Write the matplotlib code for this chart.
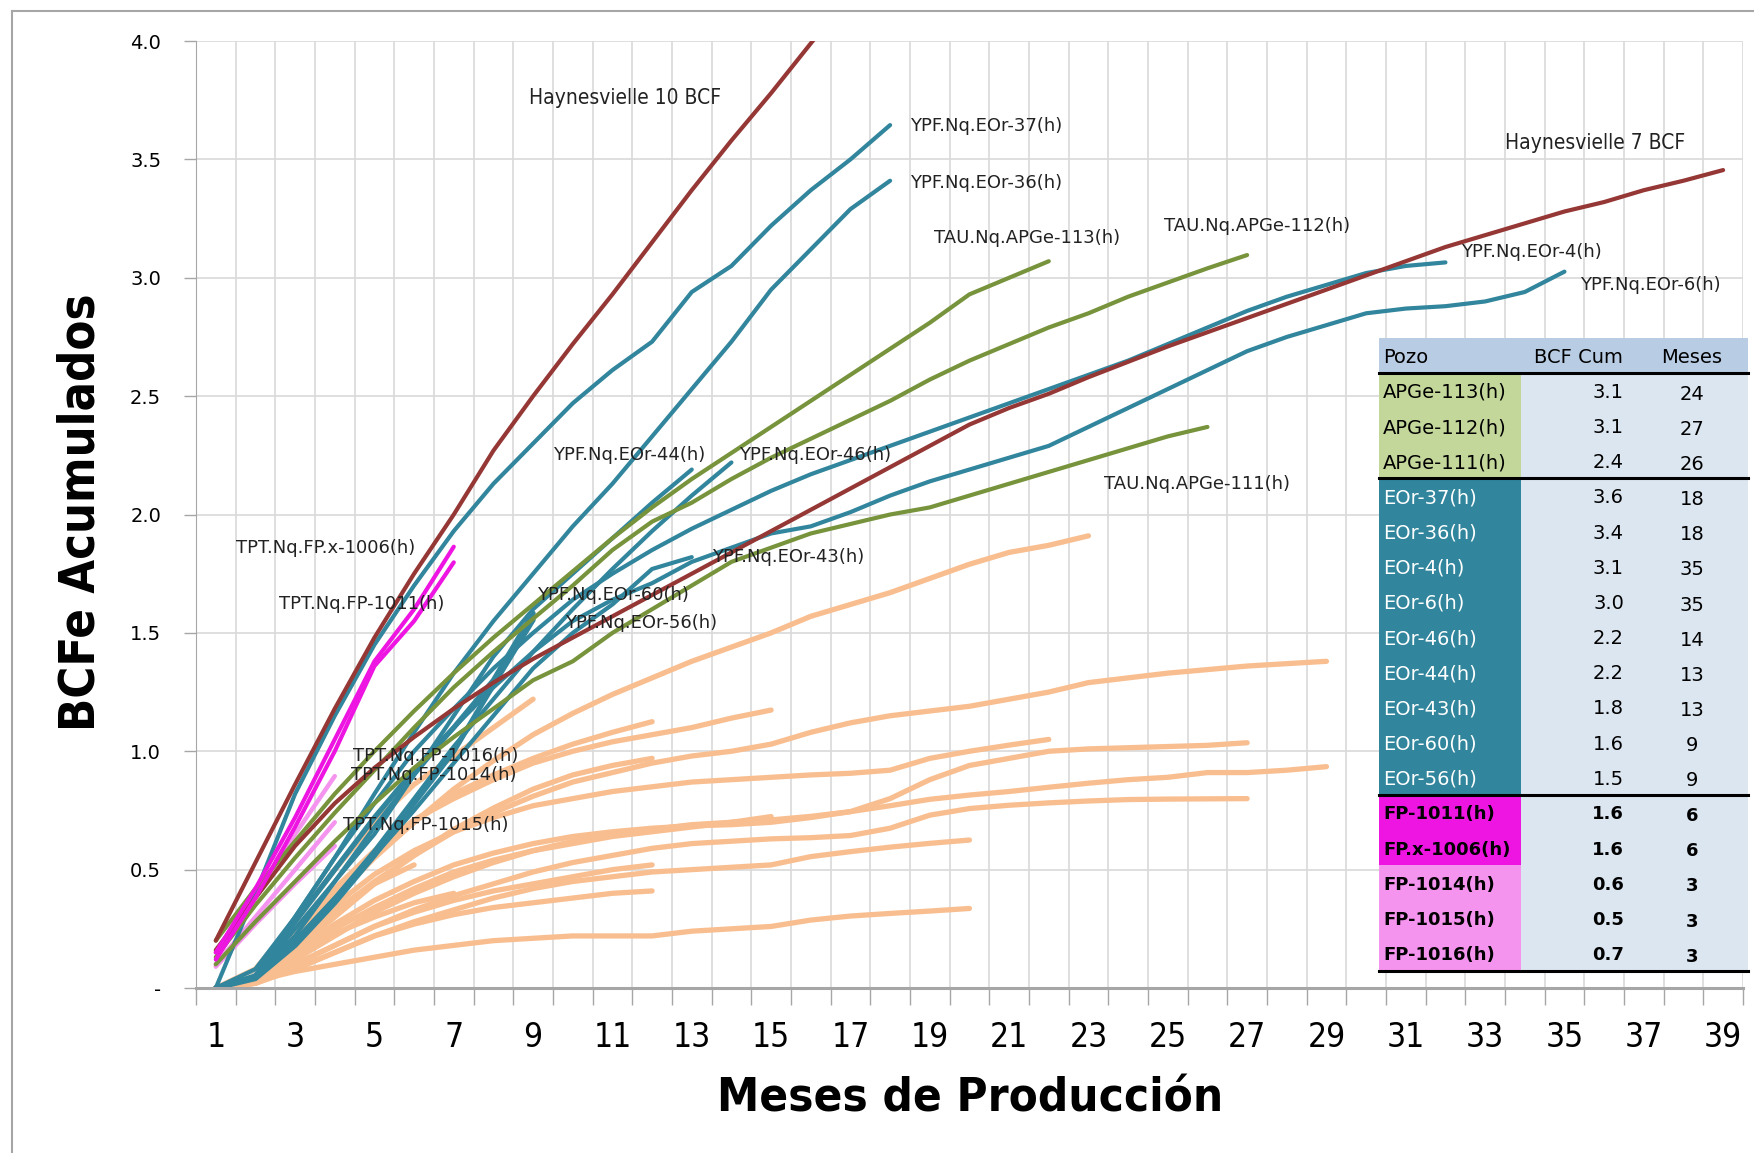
import numpy as np
import matplotlib.pyplot as plt
from matplotlib import font_manager
from matplotlib.patches import Rectangle
from matplotlib.lines import Line2D
from matplotlib.font_manager import FontProperties

# buscar una fuente angosta (Narrow / Condensed) si existe
cond_reg = None
cond_bold = None
for f in font_manager.fontManager.ttflist:
    fn = f.fname.lower()
    if ('narrow' in fn or 'condensed' in fn) and 'oblique' not in fn and 'italic' not in fn:
        if f.weight in ('bold', 700) or 'bold' in fn:
            if cond_bold is None or 'liberation' in fn:
                cond_bold = f.fname
        elif cond_reg is None or 'liberation' in fn:
            cond_reg = f.fname


def narrow_font(size, bold=False):
    fname = cond_bold if bold else cond_reg
    if fname:
        return FontProperties(fname=fname, size=size)
    return FontProperties(family='DejaVu Sans', size=size * 0.8,
                          weight='bold' if bold else 'normal')


# --- curvas de referencia (BCF acumulado por mes, desde el mes 1)
hay10 = [0.2, 0.53, 0.86, 1.18, 1.48, 1.75, 2.0, 2.27, 2.5, 2.72, 2.93, 3.15, 3.37, 3.58, 3.78, 3.99, 4.2]
hay7 = [0.16, 0.38, 0.6, 0.78, 0.93, 1.06, 1.18, 1.29, 1.39, 1.48, 1.57, 1.66, 1.75, 1.84, 1.93, 2.02,
        2.11, 2.2, 2.29, 2.38, 2.45, 2.51, 2.58, 2.645, 2.71, 2.77, 2.83, 2.89, 2.95, 3.01, 3.07, 3.13,
        3.18, 3.23, 3.28, 3.32, 3.37, 3.41, 3.455]

# --- TAU (verde)
apge113 = [0.2, 0.42, 0.62, 0.82, 1.0, 1.17, 1.33, 1.48, 1.62, 1.76, 1.9, 2.03, 2.15, 2.26, 2.37, 2.48,
           2.59, 2.7, 2.81, 2.93, 3.0, 3.07]
apge112 = [0.13, 0.35, 0.55, 0.74, 0.92, 1.1, 1.27, 1.42, 1.56, 1.7, 1.85, 1.97, 2.05, 2.15, 2.24, 2.32,
           2.4, 2.48, 2.57, 2.65, 2.72, 2.79, 2.85, 2.92, 2.98, 3.04, 3.096]
apge111 = [0.1, 0.28, 0.45, 0.62, 0.78, 0.93, 1.06, 1.18, 1.3, 1.38, 1.5, 1.6, 1.7, 1.8, 1.86, 1.92,
           1.96, 2.0, 2.03, 2.08, 2.13, 2.18, 2.23, 2.28, 2.33, 2.37]

# --- YPF (azul petroleo)
eor37 = [0.0, 0.4, 0.82, 1.15, 1.45, 1.7, 1.93, 2.13, 2.3, 2.47, 2.61, 2.73, 2.94, 3.05, 3.22, 3.37, 3.5, 3.645]
eor36 = [0.0, 0.05, 0.3, 0.55, 0.82, 1.08, 1.33, 1.55, 1.75, 1.95, 2.13, 2.33, 2.53, 2.73, 2.95, 3.12, 3.29, 3.41]
eor4 = [0.0, 0.08, 0.3, 0.55, 0.78, 1.0, 1.18, 1.35, 1.5, 1.64, 1.75, 1.85, 1.94, 2.02, 2.1, 2.17, 2.23,
        2.29, 2.35, 2.41, 2.47, 2.53, 2.59, 2.65, 2.72, 2.79, 2.86, 2.92, 2.97, 3.02, 3.05, 3.065]
eor6 = [0.0, 0.05, 0.22, 0.45, 0.68, 0.9, 1.1, 1.27, 1.42, 1.55, 1.64, 1.71, 1.8, 1.86, 1.92, 1.95, 2.01,
        2.08, 2.14, 2.19, 2.24, 2.29, 2.37, 2.45, 2.53, 2.61, 2.69, 2.75, 2.8, 2.85, 2.87, 2.88, 2.9, 2.94, 3.026]
eor46 = [0.0, 0.05, 0.2, 0.38, 0.58, 0.8, 1.02, 1.22, 1.42, 1.6, 1.77, 1.93, 2.08, 2.22]
eor44 = [0.0, 0.05, 0.25, 0.45, 0.65, 0.9, 1.15, 1.4, 1.6, 1.75, 1.9, 2.05, 2.19]
eor43 = [0.0, 0.05, 0.2, 0.38, 0.56, 0.75, 0.95, 1.15, 1.35, 1.5, 1.62, 1.77, 1.82]
eor60 = [0.0, 0.05, 0.28, 0.5, 0.72, 0.92, 1.1, 1.3, 1.583]
eor56 = [0.0, 0.04, 0.18, 0.36, 0.56, 0.78, 1.0, 1.28, 1.555]

# --- TPT (magenta / rosa)
fpx1006 = [0.15, 0.42, 0.72, 1.05, 1.38, 1.6, 1.864]
fp1011 = [0.12, 0.38, 0.68, 1.0, 1.36, 1.55, 1.798]
fp1016 = [0.15, 0.4, 0.65, 0.895]
fp1014 = [0.1, 0.3, 0.5, 0.70]
fp1015 = [0.09, 0.27, 0.44, 0.6]

# --- otros pozos (naranja claro)
naranja_a = [0, 0.05, 0.22, 0.4, 0.56, 0.7, 0.84, 0.96, 1.07, 1.16, 1.24, 1.31, 1.38, 1.44, 1.5, 1.57,
             1.62, 1.67, 1.73, 1.79, 1.84, 1.87, 1.91]
naranja_b = [0, 0.04, 0.18, 0.32, 0.45, 0.56, 0.66, 0.74, 0.81, 0.87, 0.91, 0.95, 0.98, 1.0, 1.03, 1.08,
             1.12, 1.15, 1.17, 1.19, 1.22, 1.25, 1.29, 1.31, 1.33, 1.345, 1.36, 1.37, 1.38]
naranja_c = [0, 0.05, 0.2, 0.35, 0.48, 0.58, 0.66, 0.72, 0.77, 0.8, 0.83, 0.85, 0.87, 0.88, 0.89, 0.9,
             0.907, 0.92, 0.97, 1.0, 1.026, 1.05]
naranja_d = [0, 0.03, 0.12, 0.22, 0.32, 0.4, 0.47, 0.53, 0.58, 0.62, 0.65, 0.67, 0.69, 0.7, 0.71, 0.725,
             0.745, 0.8, 0.88, 0.94, 0.97, 1.0, 1.01, 1.015, 1.02, 1.025, 1.036]
naranja_e = [0, 0.04, 0.15, 0.27, 0.37, 0.45, 0.52, 0.57, 0.61, 0.64, 0.66, 0.675, 0.685, 0.69, 0.7, 0.72,
             0.745, 0.77, 0.797, 0.815, 0.83, 0.848, 0.865, 0.88, 0.89, 0.91, 0.91, 0.92, 0.935]
naranja_f = [0, 0.02, 0.1, 0.18, 0.26, 0.33, 0.39, 0.44, 0.49, 0.53, 0.56, 0.59, 0.61, 0.62, 0.63, 0.635,
             0.644, 0.675, 0.73, 0.758, 0.772, 0.782, 0.79, 0.796, 0.798, 0.799, 0.80]
naranja_g = [0, 0.02, 0.08, 0.15, 0.22, 0.28, 0.33, 0.38, 0.42, 0.45, 0.47, 0.49, 0.5, 0.51, 0.52, 0.555,
             0.576, 0.595, 0.611, 0.625]
naranja_h = [0, 0.03, 0.07, 0.1, 0.13, 0.16, 0.18, 0.2, 0.21, 0.22, 0.22, 0.22, 0.24, 0.25, 0.26, 0.287,
             0.304, 0.315, 0.325, 0.336]
naranja_i = [0, 0.06, 0.24, 0.42, 0.58, 0.71, 0.8, 0.88, 0.95, 1.0, 1.04, 1.07, 1.1, 1.14, 1.174]
naranja_j = [0, 0.04, 0.14, 0.25, 0.34, 0.42, 0.49, 0.54, 0.58, 0.61, 0.64, 0.66, 0.68, 0.7, 0.724]
naranja_k = [0, 0.08, 0.28, 0.5, 0.7, 0.86, 0.98, 1.1, 1.22]
naranja_l = [0, 0.05, 0.2, 0.38, 0.55, 0.7, 0.82, 0.9, 0.97, 1.03, 1.08, 1.125]
naranja_m = [0, 0.04, 0.16, 0.3, 0.44, 0.56, 0.67, 0.76, 0.84, 0.9, 0.94, 0.97]
naranja_n = [0, 0.03, 0.1, 0.18, 0.26, 0.32, 0.37, 0.41, 0.44, 0.47, 0.5, 0.52]
naranja_o = [0, 0.02, 0.08, 0.15, 0.22, 0.27, 0.31, 0.34, 0.36, 0.38, 0.4, 0.41]
naranja_p = [0, 0.04, 0.14, 0.23, 0.3, 0.36, 0.40]
naranja_q = [0, 0.06, 0.2, 0.33, 0.44, 0.52]
gris = [0.0, 0.06, 0.22, 0.45]

# --- etiquetas (texto, mes, BCF)
etiquetas = [
    ("YPF.Nq.EOr-37(h)", 18.5, 3.64), ("YPF.Nq.EOr-36(h)", 18.5, 3.40),
    ("TAU.Nq.APGe-113(h)", 19.1, 3.17), ("TAU.Nq.APGe-112(h)", 24.9, 3.22),
    ("YPF.Nq.EOr-4(h)", 32.4, 3.11), ("YPF.Nq.EOr-6(h)", 35.4, 2.97),
    ("TAU.Nq.APGe-111(h)", 23.4, 2.13), ("YPF.Nq.EOr-44(h)", 9.5, 2.25),
    ("YPF.Nq.EOr-46(h)", 14.2, 2.25), ("YPF.Nq.EOr-43(h)", 13.5, 1.82),
    ("YPF.Nq.EOr-60(h)", 9.1, 1.66), ("YPF.Nq.EOr-56(h)", 9.8, 1.54),
    ("TPT.Nq.FP.x-1006(h)", 1.5, 1.86), ("TPT.Nq.FP-1011(h)", 2.6, 1.62),
    ("TPT.Nq.FP-1016(h)", 4.45, 0.98), ("TPT.Nq.FP-1014(h)", 4.4, 0.90),
    ("TPT.Nq.FP-1015(h)", 4.2, 0.69),
]
etiquetas_hay = [("Haynesvielle 10 BCF", 8.9, 3.76), ("Haynesvielle 7 BCF", 33.5, 3.57)]

# --- tabla
tabla_pozo = ["APGe-113(h)", "APGe-112(h)", "APGe-111(h)", "EOr-37(h)", "EOr-36(h)", "EOr-4(h)",
              "EOr-6(h)", "EOr-46(h)", "EOr-44(h)", "EOr-43(h)", "EOr-60(h)", "EOr-56(h)",
              "FP-1011(h)", "FP.x-1006(h)", "FP-1014(h)", "FP-1015(h)", "FP-1016(h)"]
tabla_bcf = ["3.1", "3.1", "2.4", "3.6", "3.4", "3.1", "3.0", "2.2", "2.2", "1.8", "1.6", "1.5",
             "1.6", "1.6", "0.6", "0.5", "0.7"]
tabla_meses = ["24", "27", "26", "18", "18", "35", "35", "14", "13", "13", "9", "9",
               "6", "6", "3", "3", "3"]

y_ticks = [0, 0.5, 1.0, 1.5, 2.0, 2.5, 3.0, 3.5, 4.0]
y_labels = ["-", "0.5", "1.0", "1.5", "2.0", "2.5", "3.0", "3.5", "4.0"]

RED = "#953735"
TEAL = "#31859C"
GREEN = "#77933C"
ORANGE = "#F9BE8F"
MAGENTA = "#EE14E2"
PINK = "#F594EE"

fig = plt.figure(figsize=(17.54, 11.53), dpi=100)
ax = fig.add_axes([0.1117, 0.1431, 0.882, 0.8213])


def curva(vals, color, lw=3.0):
    ax.plot(np.arange(1, len(vals) + 1), vals, color=color, lw=lw, solid_capstyle='round',
            solid_joinstyle='round')


for s in [naranja_a, naranja_b, naranja_c, naranja_d, naranja_e, naranja_f, naranja_g, naranja_h,
          naranja_i, naranja_j, naranja_k, naranja_l, naranja_m, naranja_n, naranja_o, naranja_p,
          naranja_q]:
    curva(s, ORANGE, 3.8)
curva(gris, "#C0C0C0", 3.0)
for s in [fp1016, fp1014, fp1015]:
    curva(s, PINK, 3.2)
for s in [eor60, eor56]:
    curva(s, TEAL, 3.8)
for s in [eor37, eor36, eor4, eor6, eor46, eor44, eor43]:
    curva(s, TEAL, 3.0)
for s in [apge113, apge112, apge111]:
    curva(s, GREEN, 3.0)
curva(hay10, RED, 3.0)
curva(hay7, RED, 3.0)
for s in [fpx1006, fp1011]:
    curva(s, MAGENTA, 3.0)

for txt, x, y in etiquetas:
    ax.text(x, y, txt, fontsize=13, color="#222222", va='center', ha='left', family='DejaVu Sans')
for txt, x, y in etiquetas_hay:
    ax.text(x, y, txt, color="#222222", va='center', ha='left', fontproperties=narrow_font(15))

ax.set_xlim(0.5, 39.5)
ax.set_ylim(0, 4.0)
ax.set_xticks(np.arange(1, 40, 2))
ax.set_xticklabels([str(v) for v in range(1, 40, 2)], fontproperties=narrow_font(24))
ax.set_xticks(np.arange(0.5, 40, 1), minor=True)
ax.tick_params(axis='x', which='major', length=0, pad=24)
ax.tick_params(axis='x', which='minor', length=12, width=1, color="#A6A6A6", direction='out')
ax.set_yticks(y_ticks)
ax.set_yticklabels(y_labels, fontsize=14, family='DejaVu Sans')
ax.tick_params(axis='y', length=9, width=1, color="#A6A6A6", pad=16)
ax.grid(axis='y', which='major', color="#D9D9D9", lw=1.2)
ax.grid(axis='x', which='minor', color="#D9D9D9", lw=1.2)
ax.set_axisbelow(True)
for side in ['top', 'right']:
    ax.spines[side].set_visible(False)
ax.spines['left'].set_color("#A6A6A6")
ax.spines['bottom'].set_color("#A6A6A6")
ax.spines['bottom'].set_linewidth(2.2)

fig.text(0.046, 0.556, "BCFe Acumulados", rotation=90, ha='center', va='center',
         fontproperties=narrow_font(35, bold=True))
fig.text(0.553, 0.047, "Meses de Producción", ha='center', va='center',
         fontproperties=narrow_font(34, bold=True))

# marco del area del grafico
fig.add_artist(Line2D([0.0068, 0.0068], [0.0, 0.9905], color="#A6A6A6", lw=1.5))
fig.add_artist(Line2D([0.0068, 1.0], [0.9905, 0.9905], color="#A6A6A6", lw=1.5))

# --- tabla resumen
tab = fig.add_axes([0.786, 0.158, 0.2106, 0.549])
n = len(tabla_pozo)
tab.set_xlim(0, 1)
tab.set_ylim(n + 1, 0)
tab.axis('off')
tab.add_patch(Rectangle((0, 0), 1, 1, color="#B8CCE4", lw=0))
tab.add_patch(Rectangle((0.385, 1), 0.615, n, color="#DCE6F1", lw=0))
tab.text(0.012, 0.55, "Pozo", fontsize=14, va='center', ha='left')
tab.text(0.54, 0.55, "BCF Cum", fontsize=14, va='center', ha='center')
tab.text(0.848, 0.55, "Meses", fontsize=14, va='center', ha='center')
for i, (p, b, m) in enumerate(zip(tabla_pozo, tabla_bcf, tabla_meses)):
    row = i + 1
    if p.startswith("APGe"):
        bg, fc, fw = "#C4D79B", "black", 'normal'
    elif p.startswith("EOr"):
        bg, fc, fw = TEAL, "white", 'normal'
    elif p in ("FP-1011(h)", "FP.x-1006(h)"):
        bg, fc, fw = MAGENTA, "black", 'bold'
    else:
        bg, fc, fw = PINK, "black", 'bold'
    tab.add_patch(Rectangle((0, row), 0.385, 1, color=bg, lw=0))
    fs = 13 if fw == 'bold' else 14
    tab.text(0.012, row + 0.55, p, fontsize=fs, color=fc, fontweight=fw, va='center', ha='left')
    tab.text(0.664, row + 0.55, b, fontsize=fs, fontweight=fw, va='center', ha='right')
    tab.text(0.848, row + 0.6, m, fontsize=fs, fontweight=fw, va='center', ha='center')
for yl in [1, 4, 13, n + 1]:
    tab.plot([0, 1], [yl, yl], color='black', lw=2.2, clip_on=False)

fig.savefig("out.png", dpi=100)
